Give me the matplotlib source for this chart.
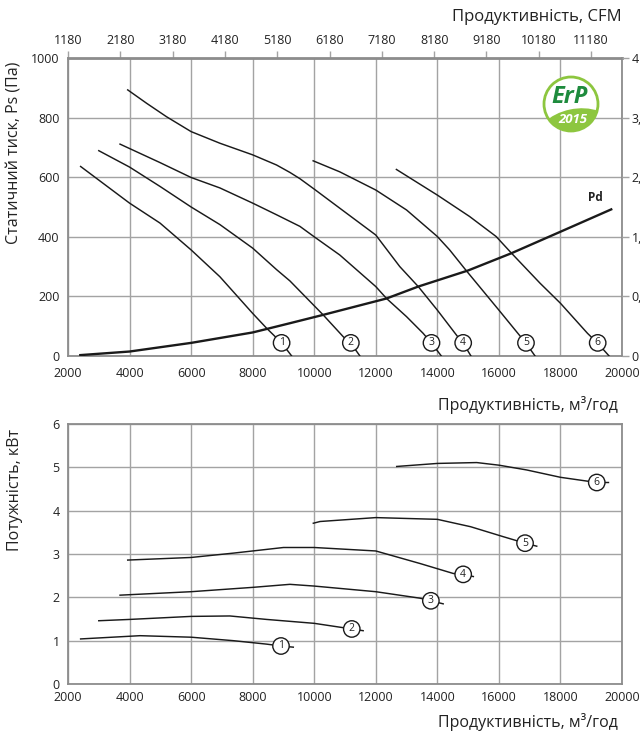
import matplotlib
matplotlib.use("Agg")
import matplotlib.pyplot as plt
from matplotlib.patches import Circle, Ellipse

plt.rcParams['font.family'] = ['Open Sans', 'DejaVu Sans']

# ---------------- data (top: static pressure, Pa vs m3/h) ----------------
q1 = [2410, 4000, 4990, 6000, 6935, 8000, 8455, 8940, 9320]
p1 = [636, 513, 446, 356, 266, 143, 93, 44, -7]

q2 = [3000, 4000, 4990, 6000, 6935, 8000, 8775, 9210, 10290, 10940, 11190, 11540]
p2 = [689, 634, 569, 500, 441, 362, 290, 252, 138, 65, 43, -8]

q3 = [3690, 4990, 6000, 6935, 8000, 8775, 9535, 10000, 10830, 12000, 12350, 13000, 13540, 13810, 14190]
p3 = [711, 649, 599, 564, 513, 474, 435, 400, 339, 233, 193, 132, 76, 43, -8]

q4 = [3940, 4555, 5200, 6000, 6935, 8000, 8775, 9210, 9535, 10000, 10830, 12000, 12780, 13380, 14000, 14660, 14840, 15140]
p4 = [893, 848, 803, 753, 714, 675, 641, 616, 595, 560, 496, 406, 300, 233, 154, 65, 43, -8]

q5 = [9965, 10830, 12000, 13000, 14000, 14400, 14920, 16000, 16570, 16880, 17230]
p5 = [655, 618, 557, 490, 401, 356, 289, 154, 82, 43, -8]

q6 = [12670, 14000, 15050, 15910, 16410, 17340, 18000, 18880, 19210, 19650]
p6 = [626, 540, 468, 401, 345, 244, 177, 76, 43, -8]

pd_q = [2400, 4000, 6000, 8000, 9210, 10290, 12350, 13380, 15000, 16410, 18000, 19650]
pd_p = [3, 15, 44, 79, 110, 138, 193, 233, 287, 345, 417, 492]

top_label_q = [8940, 11190, 13810, 14840, 16880, 19210]
top_label_p = [44, 44, 44, 44, 44, 44]

# ---------------- data (bottom: power, kW vs m3/h) ----------------
b1q = [2410, 4340, 6000, 7370, 8455, 8920, 9320]
b1p = [1.04, 1.115, 1.08, 1.0, 0.92, 0.877, 0.85]
b2q = [3000, 4000, 6000, 7260, 8455, 10000, 11220, 11590]
b2p = [1.46, 1.49, 1.56, 1.57, 1.49, 1.40, 1.27, 1.23]
b3q = [3690, 6000, 8000, 9210, 10000, 12000, 13440, 13790, 14190]
b3p = [2.05, 2.13, 2.23, 2.30, 2.26, 2.13, 1.98, 1.92, 1.85]
b4q = [3940, 6000, 7370, 8000, 9000, 10000, 12000, 13440, 14520, 14840, 15170]
b4p = [2.86, 2.92, 3.02, 3.07, 3.15, 3.15, 3.07, 2.78, 2.55, 2.53, 2.48]
b5q = [9970, 10190, 12000, 14000, 15080, 16140, 16850, 17230]
b5p = [3.71, 3.75, 3.84, 3.80, 3.63, 3.40, 3.25, 3.18]
b6q = [12680, 14000, 15280, 16000, 16900, 18000, 19180, 19560]
b6p = [5.02, 5.09, 5.11, 5.05, 4.94, 4.77, 4.65, 4.65]

bot_label_q = [8920, 11220, 13790, 14840, 16850, 19180]
bot_label_p = [0.877, 1.27, 1.92, 2.53, 3.25, 4.65]

curve_names = ['1', '2', '3', '4', '5', '6']

x_ticks = [2000, 4000, 6000, 8000, 10000, 12000, 14000, 16000, 18000, 20000]
top_y_ticks = [0, 200, 400, 600, 800, 1000]
right_y_labels = ['0', '0,8', '1,6', '2,4', '3,2', '4']
cfm_ticks = [1180, 2180, 3180, 4180, 5180, 6180, 7180, 8180, 9180, 10180, 11180]
bot_y_ticks = [0, 1, 2, 3, 4, 5, 6]

# ---------------- figure ----------------
W, H = 640, 735
fig = plt.figure(figsize=(W / 100, H / 100), dpi=100)

def ax_rect(l, t, r, b):
    return [l / W, 1 - b / H, (r - l) / W, (b - t) / H]

GRID = '#a3a3a3'
SPINE = '#8c8c8c'
TXT = '#222222'
LINE = '#1a1a1a'
FS_TICK = 9

ax1 = fig.add_axes(ax_rect(68, 58, 622, 356))
ax2 = fig.add_axes(ax_rect(68, 424, 622, 684))

for ax in (ax1, ax2):
    ax.set_xlim(2000, 20000)
    ax.set_xticks(x_ticks)
    ax.grid(True, color=GRID, lw=1.0)
    ax.set_axisbelow(True)
    for s in ax.spines.values():
        s.set_color(SPINE)
        s.set_linewidth(1.3)
    ax.tick_params(axis='both', length=0, labelsize=FS_TICK, colors=TXT)

ax1.set_ylim(0, 1000)
ax1.set_yticks(top_y_ticks)
ax1.tick_params(axis='x', pad=8)
ax1.tick_params(axis='y', pad=6)
ax1.spines['top'].set_linewidth(2.0)

ax2.set_ylim(0, 6)
ax2.set_yticks(bot_y_ticks)
ax2.tick_params(axis='x', pad=5)
ax2.tick_params(axis='y', pad=6)

# right axis (in. wg) - labels are cut by the figure edge as in the reference
axr = ax1.twinx()
axr.set_ylim(0, 1000)
axr.set_yticks(top_y_ticks)
axr.set_yticklabels(right_y_labels)
axr.tick_params(axis='y', length=5, width=1.0, color=GRID, pad=2, labelsize=FS_TICK, labelcolor=TXT)
for s in axr.spines.values():
    s.set_visible(False)

# top axis (CFM)
sec = ax1.secondary_xaxis('top', functions=(lambda q: q / 1.699, lambda c: c * 1.699))
sec.set_xticks(cfm_ticks)
sec.tick_params(axis='x', length=5, width=1.0, color=GRID, pad=3, labelsize=FS_TICK, labelcolor=TXT)
sec.spines['top'].set_visible(False)

# curves
top_q = [q1, q2, q3, q4, q5, q6]
top_p = [p1, p2, p3, p4, p5, p6]
for q, p in zip(top_q, top_p):
    ax1.plot(q, p, color=LINE, lw=1.05, zorder=3, solid_joinstyle='round')
ax1.plot(pd_q, pd_p, color=LINE, lw=1.7, zorder=3, solid_joinstyle='round')
ax1.text(19150, 510, 'Pd', fontsize=8.5, fontweight='bold', ha='center', va='bottom', color=TXT)

bot_q = [b1q, b2q, b3q, b4q, b5q, b6q]
bot_p = [b1p, b2p, b3p, b4p, b5p, b6p]
for q, p in zip(bot_q, bot_p):
    ax2.plot(q, p, color=LINE, lw=1.05, zorder=3, solid_joinstyle='round')

circ = dict(boxstyle='circle,pad=0.26', fc='white', ec=LINE, lw=1.0)
for name, x, y in zip(curve_names, top_label_q, top_label_p):
    ax1.text(x, y, name, fontsize=7.5, ha='center', va='center', bbox=circ, zorder=5, color=TXT)
for name, x, y in zip(curve_names, bot_label_q, bot_label_p):
    ax2.text(x, y, name, fontsize=7.5, ha='center', va='center', bbox=circ, zorder=5, color=TXT)

# texts in pixel coordinates
def ftext(x, y, s, **kw):
    fig.text(x / W, 1 - y / H, s, **kw)

ftext(622, 17, 'Продуктивність, CFM', ha='right', va='center', fontsize=12, color=TXT)
ftext(618, 405, 'Продуктивність, м³/год', ha='right', va='center', fontsize=11.5, color=TXT)
ftext(618, 722, 'Продуктивність, м³/год', ha='right', va='center', fontsize=11.5, color=TXT)
ftext(15, 153, 'Статичний тиск, Ps (Па)', ha='center', va='center', rotation=90, fontsize=11.5, color=TXT)
ftext(15, 490, 'Потужність, кВт', ha='center', va='center', rotation=90, fontsize=11.5, color=TXT)

# ErP logo (pixel overlay)
ov = fig.add_axes([0, 0, 1, 1])
ov.set_xlim(0, W)
ov.set_ylim(H, 0)
ov.axis('off')
cx, cy, r = 571, 104, 27
base = Circle((cx, cy), r, fc='white', ec='#8dc63f', lw=2.0, zorder=1)
ov.add_patch(base)
leaf = Ellipse((cx + 4, cy + 30), 78, 50, angle=-12, fc='#8dc63f', ec='none', zorder=2)
ov.add_patch(leaf)
leaf.set_clip_path(base)
ov.text(cx - 1, cy - 7, 'ErP', fontsize=17, fontweight='bold', style='italic', color='#1e8b3d',
        ha='center', va='center', zorder=3)
ov.text(cx + 2, cy + 15, '2015', fontsize=9.5, fontweight='bold', style='italic', color='white',
        ha='center', va='center', zorder=3)

fig.savefig('out.png', dpi=100)
